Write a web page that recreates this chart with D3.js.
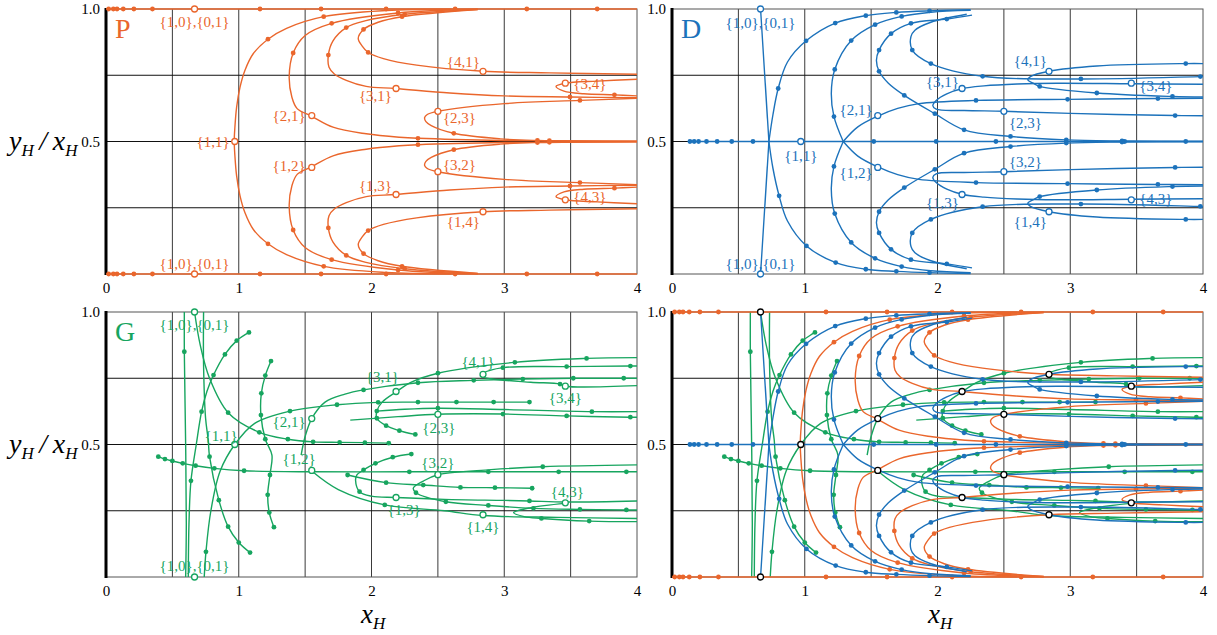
<!DOCTYPE html>
<html>
<head>
<meta charset="utf-8">
<script src="https://cdn.jsdelivr.net/npm/d3@7"></script>
<style>
body { margin: 0; background: #fff; }
svg text { font-family: "Liberation Serif", "Tinos", "Times New Roman", "Noto Serif", "DejaVu Serif", serif; }
</style>
</head>
<body>
<script>
// axes
var X_TICKS = [0, 1, 2, 3, 4];
var Y_TICKS = [0.5, 1.0];
var X_GRID = [0.5, 1, 1.5, 2, 2.5, 3, 3.5];
var Y_GRID = [0.25, 0.5, 0.75];

// labelled points {i,j}
var POINTS = [
    ["{1,0},{0,1}", 0.667, 1], ["{1,0},{0,1}b", 0.667, 0],
    ["{1,1}", 0.97, 0.5],
    ["{2,1}", 1.55, 0.598], ["{1,2}", 1.55, 0.402],
    ["{3,1}", 2.185, 0.70], ["{1,3}", 2.185, 0.30],
    ["{4,1}", 2.84, 0.765], ["{1,4}", 2.84, 0.235],
    ["{2,3}", 2.50, 0.614], ["{3,2}", 2.50, 0.386],
    ["{3,4}", 3.46, 0.72], ["{4,3}", 3.46, 0.28]
];

// P curves: [x, y, dot]
var P_top = [[0,1],[0.02,1,1],[0.055,1,1],[0.083,1,1],[0.13,1,1],[0.21,1,1],[0.35,1,1],[1.16,1,1],[1.62,1,1],[2.11,1,1],[2.63,1,1],[3.17,1,1],[3.70,1,1],[4,1]];
var P_bot = [[0,0],[0.02,0,1],[0.055,0,1],[0.083,0,1],[0.13,0,1],[0.21,0,1],[0.35,0,1],[1.16,0,1],[1.62,0,1],[2.11,0,1],[2.63,0,1],[3.17,0,1],[3.70,0,1],[4,0]];
var P_11 = [[2.6,0.999],[2.11,0.994],[1.64,0.971,1],[1.36,0.927],[1.22,0.886,1],[1.11,0.832],[1.047,0.769],[1.01,0.706],[0.984,0.63],[0.971,0.554],[0.966,0.5],[0.971,0.446],[0.984,0.37],[1.01,0.294],[1.047,0.231],[1.11,0.168],[1.22,0.114,1],[1.36,0.073],[1.64,0.029,1],[2.11,0.006],[2.6,0.001]];
var P_21 = [[2.8,0.999],[2.2,0.985,1],[1.70,0.946,1],[1.50,0.90],[1.41,0.834,1],[1.38,0.744],[1.40,0.668],[1.44,0.624],[1.547,0.596],[1.71,0.554],[1.96,0.529],[2.21,0.516],[2.35,0.512,1],[3.0,0.504],[3.34,0.503,1],[4,0.501]];
var P_12 = [[2.8,0.001],[2.2,0.015,1],[1.70,0.054,1],[1.50,0.10],[1.41,0.166,1],[1.38,0.256],[1.40,0.332],[1.44,0.376],[1.547,0.404],[1.71,0.446],[1.96,0.471],[2.21,0.484],[2.35,0.488,1],[3.0,0.496],[3.34,0.497,1],[4,0.499]];
var P_31 = [[2.8,0.998],[2.25,0.98,1],[1.95,0.955],[1.81,0.93,1],[1.71,0.88],[1.675,0.826,1],[1.68,0.78],[1.72,0.755],[1.81,0.731],[1.96,0.708],[2.18,0.70],[2.59,0.683],[3.0,0.672],[3.495,0.668,1],[4,0.665]];
var P_13 = [[2.8,0.002],[2.25,0.02,1],[1.95,0.045],[1.81,0.07,1],[1.71,0.12],[1.675,0.174,1],[1.68,0.22],[1.72,0.245],[1.81,0.269],[1.96,0.292],[2.18,0.30],[2.59,0.317],[3.0,0.328],[3.495,0.332,1],[4,0.335]];
var P_41 = [[2.8,0.998],[2.23,0.971,1],[2.05,0.95],[1.94,0.923,1],[1.90,0.889],[1.93,0.86],[1.975,0.836,1],[2.09,0.813],[2.34,0.788],[2.84,0.765],[3.34,0.759],[4,0.754]];
var P_14 = [[2.8,0.002],[2.23,0.029,1],[2.05,0.05],[1.94,0.077,1],[1.90,0.111],[1.93,0.14],[1.975,0.164,1],[2.09,0.187],[2.34,0.212],[2.84,0.235],[3.34,0.241],[4,0.246]];
var P_23 = [[4,0.663],[3.57,0.655,1],[3.0,0.643],[2.50,0.614],[2.42,0.602],[2.40,0.590],[2.41,0.575],[2.45,0.56],[2.62,0.531,1],[2.97,0.51],[3.25,0.504,1],[4,0.501]];
var P_32 = [[4,0.337],[3.57,0.345,1],[3.0,0.357],[2.50,0.386],[2.42,0.398],[2.40,0.41],[2.41,0.425],[2.45,0.44],[2.62,0.469,1],[2.97,0.49],[3.25,0.496,1],[4,0.499]];
var P_34 = [[4,0.735],[3.7,0.728],[3.46,0.72],[3.39,0.708],[3.45,0.69],[3.6,0.68],[3.83,0.676,1],[4,0.672]];
var P_43 = [[4,0.265],[3.7,0.272],[3.46,0.28],[3.39,0.292],[3.45,0.31],[3.6,0.32],[3.83,0.324,1],[4,0.328]];

// D curves
var D_Vup = [[0.667,1],[0.73,0.5]];
var D_Vdn = [[0.73,0.5],[0.667,0]];
var D_H = [[0.135,0.5,1],[0.167,0.5,1],[0.2,0.5,1],[0.26,0.5,1],[0.34,0.5,1],[0.45,0.5,1],[0.61,0.5,1],[1.52,0.5,1],[1.99,0.5,1],[2.44,0.5,1],[3.41,0.5,1],[3.87,0.5,1],[4,0.5]];
var D_Kup = [[0.73,0.5],[0.76,0.60],[0.80,0.70,1],[0.87,0.80],[1.01,0.88,1],[1.23,0.947,1],[1.46,0.975,1],[1.69,0.987,1],[1.94,0.993,1],[2.25,0.997]];
var D_Kdn = [[0.73,0.5],[0.76,0.40],[0.807,0.295,1],[0.87,0.20],[1.013,0.106,1],[1.233,0.043,1],[1.46,0.018,1],[1.69,0.010,1],[1.94,0.005,1],[2.25,0.002]];
var D_Aup = [[1.29,0.5],[1.22,0.594,1],[1.20,0.68],[1.226,0.772,1],[1.35,0.881,1],[1.53,0.941,1],[1.73,0.972,1],[1.95,0.988],[2.25,0.995]];
var D_Adn = [[1.29,0.5],[1.22,0.406,1],[1.20,0.32],[1.226,0.228,1],[1.35,0.119,1],[1.53,0.059,1],[1.73,0.028,1],[1.95,0.012],[2.25,0.005]];
var D_Bup = [[1.29,0.5],[1.40,0.555],[1.551,0.596],[1.70,0.625],[1.86,0.643],[2.29,0.655,1],[2.98,0.659,1],[3.66,0.662,1],[4,0.663]];
var D_Bdn = [[1.29,0.5],[1.40,0.445],[1.551,0.404],[1.70,0.375],[1.86,0.357],[2.29,0.345,1],[2.98,0.341,1],[3.66,0.338,1],[4,0.337]];
var D_Cup = [[2.26,0.977],[2.07,0.962,1],[1.80,0.946,1],[1.65,0.907,1],[1.56,0.845,1],[1.54,0.807],[1.56,0.765,1],[1.63,0.72],[1.75,0.674,1],[1.98,0.605,1],[2.2,0.544,1],[2.55,0.519,1],[2.97,0.506,1],[3.39,0.502,1],[4,0.50]];
var D_Cdn = [[2.26,0.023],[2.07,0.038,1],[1.80,0.054,1],[1.65,0.093,1],[1.56,0.155,1],[1.54,0.193],[1.56,0.235,1],[1.63,0.28],[1.75,0.326,1],[1.98,0.395,1],[2.2,0.456,1],[2.55,0.481,1],[2.97,0.494,1],[3.39,0.498,1],[4,0.50]];
var D_Eup = [[2.22,0.98],[1.95,0.95],[1.83,0.92],[1.80,0.896],[1.81,0.845,1],[1.95,0.794,1],[2.34,0.746,1],[3.08,0.736,1],[3.98,0.745,1],[4,0.745]];
var D_Edn = [[2.22,0.02],[1.95,0.05],[1.83,0.08],[1.80,0.104],[1.81,0.155,1],[1.95,0.206,1],[2.34,0.254,1],[3.08,0.264,1],[3.98,0.255,1],[4,0.255]];
var D_41 = [[4,0.794],[3.87,0.794,1],[3.2,0.785],[2.84,0.765],[2.70,0.745],[2.68,0.733],[2.72,0.72],[2.77,0.708,1],[3.2,0.683,1],[3.77,0.67,1],[4,0.668]];
var D_14 = [[4,0.206],[3.87,0.206,1],[3.2,0.215],[2.84,0.235],[2.70,0.255],[2.68,0.267],[2.72,0.28],[2.77,0.292,1],[3.2,0.317,1],[3.77,0.33,1],[4,0.332]];
var D_31 = [[4,0.716],[3.46,0.718],[2.9,0.72],[2.6,0.717],[2.35,0.71],[2.19,0.70],[2.07,0.68],[1.99,0.655],[1.965,0.635],[1.99,0.622],[2.2,0.617],[2.50,0.614],[3.0,0.606],[3.79,0.598,1],[4,0.597]];
var D_13 = [[4,0.284],[3.46,0.282],[2.9,0.28],[2.6,0.283],[2.35,0.29],[2.19,0.30],[2.07,0.32],[1.99,0.345],[1.965,0.365],[1.99,0.378],[2.2,0.383],[2.50,0.386],[3.0,0.394],[3.79,0.402,1],[4,0.403]];

// G curves
var G_L3 = [[0.59,1.0],[0.59,0.85,1],[0.60,0.5],[0.605,0.2],[0.60,0]];
var G_L4 = [[0.735,1.0],[0.735,0.8],[0.75,0.6],[0.77,0.517],[0.78,0.454,1],[0.85,0.29,1],[0.92,0.19,1],[1.0,0.13,1],[1.085,0.092,1]];
var G_10 = [[0.667,1],[0.71,0.875],[0.78,0.75],[0.92,0.62,1],[1.155,0.546,1],[1.37,0.52,1],[1.56,0.51,1],[1.76,0.508,1],[1.95,0.507,1],[2.13,0.505,1]];
var G_R = [[0.62,0],[0.625,0.2],[0.64,0.363,1],[0.68,0.5],[0.72,0.624,1],[0.76,0.70],[0.81,0.762,1],[0.896,0.84,1],[0.985,0.892,1],[1.077,0.923,1]];
var G_11 = [[0.74,0],[0.753,0.095,1],[0.79,0.25],[0.86,0.40],[0.97,0.5],[1.12,0.58],[1.386,0.626,1],[1.74,0.65,1],[2.05,0.659,1],[2.35,0.66,1],[2.64,0.66,1],[2.92,0.66,1],[3.19,0.66,1]];
var G_S = [[1.243,0.815,1],[1.20,0.76,1],[1.17,0.693,1],[1.167,0.611,1],[1.20,0.52,1],[1.25,0.46],[1.235,0.385,1],[1.218,0.31,1],[1.23,0.243,1],[1.265,0.188,1]];
var G_12 = [[0.394,0.454,1],[0.444,0.445,1],[0.50,0.438,1],[0.578,0.429,1],[0.675,0.42,1],[0.816,0.41,1],[1.04,0.401,1],[1.55,0.397],[2.285,0.397,1],[2.88,0.397,1],[3.41,0.397,1],[3.92,0.397,1],[4,0.397]];
var G_31 = [[4,0.828],[3.62,0.825,1],[3.08,0.81,1],[2.50,0.769,1],[2.30,0.735],[2.19,0.70],[2.08,0.66],[2.04,0.626,1],[2.04,0.599,1],[2.11,0.571,1],[2.21,0.552,1],[2.33,0.538,1]];
var G_24 = [[2.04,0.626],[2.25,0.633],[2.50,0.637,1],[3.0,0.632],[3.66,0.624,1],[4,0.624]];
var G_41 = [[4,0.796],[3.95,0.796,1],[3.47,0.794,1],[2.99,0.79,1],[2.84,0.769],[2.82,0.758],[2.9,0.748],[3.2,0.735],[3.42,0.728,1],[3.46,0.72],[4,0.722]];
var G_21 = [[1.47,0.46],[1.50,0.53],[1.55,0.598],[1.65,0.66],[1.80,0.69],[1.94,0.706,1],[2.35,0.733,1],[2.77,0.742,1],[3.14,0.747,1],[3.52,0.75,1],[3.90,0.75,1],[4,0.75]];
var G_23 = [[1.84,0.592],[2.2,0.605],[2.50,0.614],[2.99,0.615,1],[3.47,0.608,1],[3.95,0.603,1],[4,0.603]];
var G_32 = [[4,0.423],[3.29,0.416,1],[2.9,0.405],[2.50,0.386],[2.39,0.362],[2.315,0.335],[2.335,0.318,1],[2.56,0.284,1],[2.88,0.27,1],[3.22,0.259,1],[3.57,0.255,1],[3.92,0.253,1],[4,0.253]];
var G_34 = [[1.82,0.385,1],[2.11,0.356,1],[2.39,0.347,1],[2.67,0.338,1],[2.93,0.337,1],[3.21,0.335,1]];
var G_13 = [[2.30,0.464,1],[2.16,0.452,1],[2.03,0.429,1],[1.94,0.404,1],[1.89,0.385],[1.88,0.365],[1.91,0.322,1],[2.0,0.305],[2.185,0.30],[2.55,0.293],[3.0,0.289],[3.19,0.287,1],[3.46,0.283],[4,0.287]];
var G_43 = [[3.46,0.278],[3.2,0.262],[3.07,0.243],[3.15,0.228],[3.28,0.221,1],[3.64,0.211,1],[4,0.209]];
var G_14 = [[1.55,0.40],[1.75,0.33],[2.10,0.272,1],[2.55,0.25],[2.84,0.232],[3.4,0.225],[4,0.221]];

var SERIES = {
    P: { color: "#ea662c", curves: [P_top, P_bot, P_11, P_21, P_12, P_31, P_13, P_41, P_14, P_23, P_32, P_34, P_43] },
    D: { color: "#1c72bb", curves: [D_Vup, D_Vdn, D_H, D_Kup, D_Kdn, D_Aup, D_Adn, D_Bup, D_Bdn, D_Cup, D_Cdn, D_Eup, D_Edn, D_41, D_14, D_31, D_13] },
    G: { color: "#17a55f", curves: [G_L3, G_L4, G_10, G_R, G_11, G_S, G_12, G_31, G_24, G_41, G_21, G_23, G_32, G_34, G_13, G_43, G_14] }
};

// label placement relative to its circle: [dx, dy, anchor]
var LABEL_POS = {
    P: {
        "{1,0},{0,1}": [0, 18, "middle"], "{1,0},{0,1}b": [0, -5, "middle"],
        "{1,1}": [-5, 5, "end"], "{2,1}": [-6, 5, "end"], "{1,2}": [-6, 4, "end"],
        "{3,1}": [-4, 12, "end"], "{1,3}": [-4, -4, "end"], "{4,1}": [-3, -4, "end"],
        "{1,4}": [-3, 15, "end"], "{2,3}": [5, 12, "start"], "{3,2}": [5, -2, "start"],
        "{3,4}": [8, 6, "start"], "{4,3}": [8, 2, "start"]
    },
    D: {
        "{1,0},{0,1}": [0, 19, "middle"], "{1,0},{0,1}b": [0, -5, "middle"],
        "{1,1}": [0, 19, "middle"], "{2,1}": [-5, -1, "end"], "{1,2}": [-5, 11, "end"],
        "{3,1}": [-3, -2, "end"], "{1,3}": [-3, 13, "end"], "{4,1}": [-2, -5, "end"],
        "{1,4}": [-2, 15, "end"], "{2,3}": [5, 17, "start"], "{3,2}": [5, -5, "start"],
        "{3,4}": [8, 8, "start"], "{4,3}": [8, 4, "start"]
    },
    G: {
        "{1,0},{0,1}": [0, 18, "middle"], "{1,0},{0,1}b": [0, -6, "middle"],
        "{1,1}": [3, -4, "end"], "{2,1}": [-6, 8, "end"], "{1,2}": [4, -6, "end"],
        "{3,1}": [3, -10, "end"], "{1,3}": [8, 17, "middle"], "{4,1}": [-5, -7, "middle"],
        "{1,4}": [0, 17, "middle"], "{2,3}": [1, 19, "middle"], "{3,2}": [0, -7, "middle"],
        "{3,4}": [0, 17, "middle"], "{4,3}": [2, -6, "middle"]
    }
};

var PANELS = [
    { left: 106, top: 9, sets: ["P"], letter: "P" },
    { left: 672, top: 9, sets: ["D"], letter: "D" },
    { left: 106, top: 312, sets: ["G"], letter: "G" },
    { left: 672, top: 312, sets: ["G", "P", "D"], letter: null }
];

var W = 531, H = 265;
var FONT = "Liberation Serif, Tinos, Times New Roman, Noto Serif, DejaVu Serif, serif";

var svg = d3.select("body").append("svg")
    .attr("width", 1217)
    .attr("height", 635)
    .attr("font-family", FONT);

PANELS.forEach(drawPanel);

function drawPanel(p) {
    var x = d3.scaleLinear().domain([0, 4]).range([p.left, p.left + W]);
    var y = d3.scaleLinear().domain([0, 1]).range([p.top + H, p.top]);
    var g = svg.append("g");

    g.selectAll(".vg").data(X_GRID).enter().append("line")
        .attr("x1", function(d) { return x(d); }).attr("x2", function(d) { return x(d); })
        .attr("y1", y(0)).attr("y2", y(1))
        .attr("stroke", "#3a3a3a").attr("stroke-width", 1);
    g.selectAll(".hg").data(Y_GRID).enter().append("line")
        .attr("x1", x(0)).attr("x2", x(4))
        .attr("y1", function(d) { return y(d); }).attr("y2", function(d) { return y(d); })
        .attr("stroke", "#111").attr("stroke-width", 1);

    g.append("rect")
        .attr("x", x(0)).attr("y", y(1)).attr("width", W).attr("height", H)
        .attr("fill", "none").attr("stroke", "#555").attr("stroke-width", 1);
    g.append("line")
        .attr("x1", x(0)).attr("x2", x(0)).attr("y1", y(0) + 1).attr("y2", y(1) - 1)
        .attr("stroke", "#000").attr("stroke-width", 3);

    var line = d3.line()
        .x(function(d) { return x(d[0]); })
        .y(function(d) { return y(d[1]); })
        .curve(d3.curveCatmullRom.alpha(0.5));

    p.sets.forEach(function(key) {
        var s = SERIES[key];
        g.selectAll(null).data(s.curves).enter().append("path")
            .attr("d", line)
            .attr("fill", "none")
            .attr("stroke", s.color)
            .attr("stroke-width", 1.4);
        var dots = [];
        s.curves.forEach(function(c) { c.forEach(function(d) { if (d[2]) dots.push(d); }); });
        g.selectAll(null).data(dots).enter().append("circle")
            .attr("cx", function(d) { return x(d[0]); })
            .attr("cy", function(d) { return y(d[1]); })
            .attr("r", 2.4)
            .attr("fill", s.color);
    });

    var single = p.sets.length === 1;
    var ccol = single ? SERIES[p.sets[0]].color : "#000";
    g.selectAll(null).data(POINTS).enter().append("circle")
        .attr("cx", function(d) { return x(d[1]); })
        .attr("cy", function(d) { return y(d[2]); })
        .attr("r", 3)
        .attr("fill", "#fff")
        .attr("stroke", ccol)
        .attr("stroke-width", 1.3);

    if (single) {
        var pos = LABEL_POS[p.sets[0]];
        g.selectAll(null).data(POINTS).enter().append("text")
            .attr("x", function(d) { return x(d[1]) + pos[d[0]][0]; })
            .attr("y", function(d) { return y(d[2]) + pos[d[0]][1]; })
            .attr("text-anchor", function(d) { return pos[d[0]][2]; })
            .attr("font-size", 15)
            .attr("fill", ccol)
            .text(function(d) { return d[0].replace("b", ""); });
        g.append("text")
            .attr("x", x(0) + 9).attr("y", y(1) + 29)
            .attr("font-size", 28)
            .attr("fill", ccol)
            .text(p.letter);
    }

    var ax = g.append("g")
        .attr("transform", "translate(0," + y(0) + ")")
        .call(d3.axisBottom(x).tickValues(X_TICKS).tickSize(0).tickPadding(8).tickFormat(d3.format("d")));
    var ay = g.append("g")
        .attr("transform", "translate(" + x(0) + ",0)")
        .call(d3.axisLeft(y).tickValues(Y_TICKS).tickSize(0).tickPadding(6).tickFormat(d3.format(".1f")));
    [ax, ay].forEach(function(a) {
        a.attr("font-family", FONT);
        a.select(".domain").remove();
        a.selectAll("text").attr("font-size", 15).attr("fill", "#000");
    });
}

// axis titles
function subLabel(sel, parts) {
    parts.forEach(function(pt) {
        sel.append("tspan")
            .attr("font-size", pt[1])
            .attr("font-style", pt[2] ? "italic" : "normal")
            .attr("dy", pt[3])
            .text(pt[0]);
    });
}
[150, 453].forEach(function(yy) {
    var t = svg.append("text").attr("x", 9).attr("y", yy).attr("fill", "#000");
    subLabel(t, [["y", 28, true, 0], ["H", 17, true, 6], ["\u2009/\u2009", 28, true, -6], ["x", 28, true, 0], ["H", 17, true, 6]]);
});
[361, 928].forEach(function(xx) {
    var t = svg.append("text").attr("x", xx).attr("y", 623).attr("fill", "#000");
    subLabel(t, [["x", 27, true, 0], ["H", 17, true, 6]]);
});
</script>
</body>
</html>
